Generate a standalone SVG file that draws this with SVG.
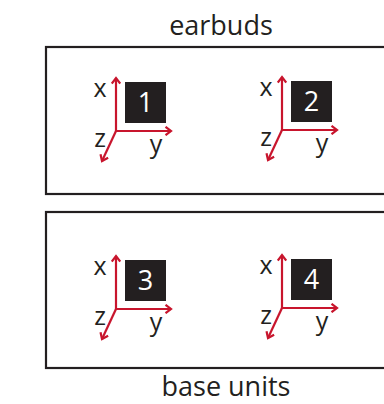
<svg xmlns="http://www.w3.org/2000/svg" width="384" height="404" viewBox="0 0 384 404">
<style>
.frame{fill:none;stroke:#231f20;stroke-width:2.2}
.title{font-family:"Open Sans",sans-serif;font-size:27px;fill:#231f20;text-anchor:middle}
.ax{stroke:#c8152d;stroke-width:2.2;fill:none;marker-end:url(#ah)}
.lbl{font-family:"Open Sans",sans-serif;font-size:25px;fill:#231f20;text-anchor:middle}
.sq{fill:#231f20}
.num{font-family:"Open Sans",sans-serif;font-size:27px;fill:#ffffff;text-anchor:middle}
</style>
<defs>
<marker id="ah" viewBox="0 0 10 10" refX="8" refY="5" markerWidth="10" markerHeight="10" markerUnits="userSpaceOnUse" orient="auto">
<path d="M2.5,0.8 L8,5 L2.5,9.2" fill="none" stroke="#c8152d" stroke-width="2.2"/>
</marker>
<g id="triad">
<line class="ax" x1="0" y1="1" x2="0" y2="-53"/>
<line class="ax" x1="-1" y1="0" x2="55" y2="0"/>
<line class="ax" x1="0" y1="0" x2="-14" y2="30"/>
<text class="lbl" x="-16" y="-34">x</text>
<text class="lbl" x="-16" y="16">z</text>
<text class="lbl" x="40" y="22">y</text>
<rect class="sq" x="9" y="-49" width="41" height="41"/>
</g>
</defs>
<text class="title" x="221" y="35">earbuds</text>
<g id="earbuds">
<rect class="frame" x="46" y="47" width="350" height="147"/>
</g>
<g id="base-units">
<rect class="frame" x="46" y="212" width="350" height="156"/>
</g>
<text class="title" x="226" y="396">base units</text>
<g id="node1" transform="translate(116,131)">
<use href="#triad"/>
<text class="num" x="29.5" y="-19">1</text>
</g>
<g id="node2" transform="translate(282,130)">
<use href="#triad"/>
<text class="num" x="29.5" y="-19">2</text>
</g>
<g id="node3" transform="translate(116,309)">
<use href="#triad"/>
<text class="num" x="29.5" y="-19">3</text>
</g>
<g id="node4" transform="translate(282,308)">
<use href="#triad"/>
<text class="num" x="29.5" y="-19">4</text>
</g>
<g id="connectors"></g>
</svg>
